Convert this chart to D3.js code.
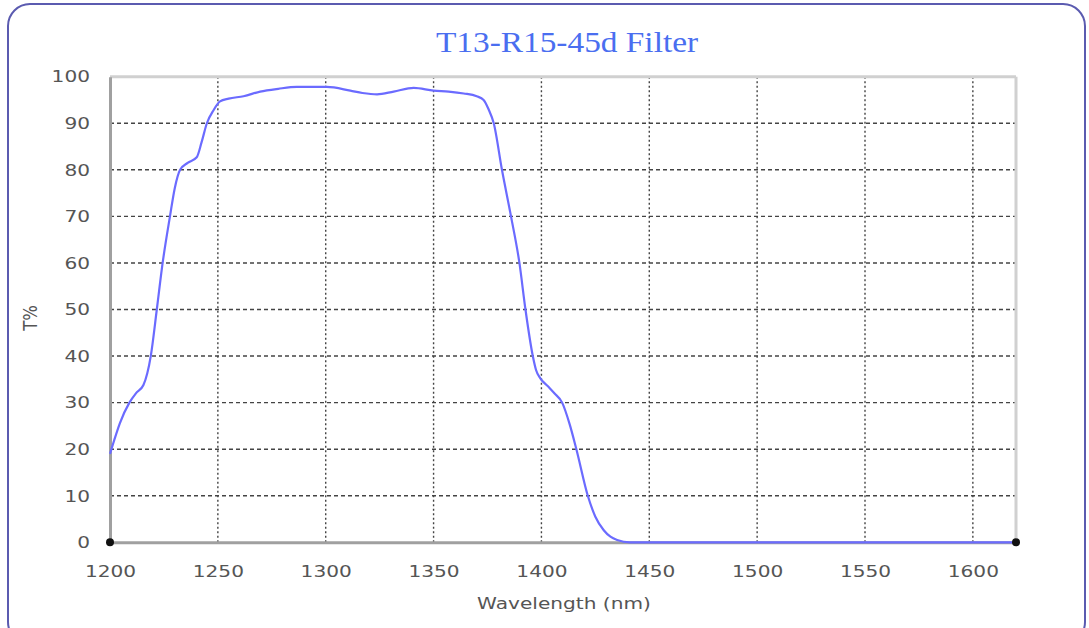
<!DOCTYPE html>
<html><head><meta charset="utf-8">
<script src="https://cdn.jsdelivr.net/npm/d3@7"></script>
<style>body{margin:0;background:#fff}svg{display:block}</style>
</head><body>
<svg id="c" width="1089" height="628"></svg>
<script>
const title = "T13-R15-45d Filter";
const xLabel = "Wavelength (nm)";
const yLabel = "T%";
const xTicks = [1200,1250,1300,1350,1400,1450,1500,1550,1600];
const yTicks = [0,10,20,30,40,50,60,70,80,90,100];
const wavelength = [1200,1202,1204.6,1209,1212,1215.5,1218.9,1221.7,1224.4,1227.8,1230,1232.5,1236,1240.2,1242.5,1244.9,1248,1251,1255,1261.9,1269.6,1278,1286.6,1300.5,1311.4,1317,1323.8,1331.5,1340.8,1350,1357,1364,1370,1373.2,1375.5,1377.9,1381.7,1385.9,1389.8,1392.6,1396,1397.5,1399.5,1403,1406,1409.6,1413,1416.2,1421.5,1425,1428.9,1432,1435.1,1441,1500,1560,1620];
const transmission = [19,22,25.6,30,32,33.8,40,50,60,70,76,80,81.5,82.7,86,90,92.8,94.7,95.3,95.8,96.8,97.4,97.8,97.8,97.0,96.5,96.2,96.8,97.6,97.0,96.8,96.4,95.8,95,93,90,80,70,60,50,40,37,35.2,33.5,32,30,25.5,20,10,5.5,2.6,1.2,0.5,0,0,0,0];

const svg = d3.select("#c");
const x = d3.scaleLinear().domain([1200,1620]).range([110,1016]);
const y = d3.scaleLinear().domain([0,100]).range([542.3,76.7]);
const SX = 1.22;

// outer frame
svg.append("rect").attr("x",8).attr("y",4).attr("width",1077).attr("height",640)
  .attr("rx",22).attr("ry",22).attr("fill","#fff").attr("stroke","#5b5bb0").attr("stroke-width",2);

// grid
const g = svg.append("g");
g.selectAll("line.h").data(yTicks.filter(d=>d>0&&d<100)).join("line")
  .attr("x1",x(1200)).attr("x2",x(1620)).attr("y1",d=>y(d)).attr("y2",d=>y(d))
  .attr("stroke","#444").attr("stroke-width",1.4).attr("stroke-dasharray","4,3");
g.selectAll("line.v").data(xTicks.filter(d=>d>1200)).join("line")
  .attr("y1",y(0)).attr("y2",y(100)).attr("x1",d=>x(d)).attr("x2",d=>x(d))
  .attr("stroke","#444").attr("stroke-width",1.4).attr("stroke-dasharray","2,2.5");

// plot frame
svg.append("line").attr("x1",x(1200)).attr("x2",x(1620)).attr("y1",y(100)).attr("y2",y(100)).attr("stroke","#d0d0d0").attr("stroke-width",3);
svg.append("line").attr("x1",x(1620)).attr("x2",x(1620)).attr("y1",y(100)).attr("y2",y(0)).attr("stroke","#d0d0d0").attr("stroke-width",3);

// axes
const xa = svg.append("g").attr("transform",`translate(0,${y(0)})`)
  .call(d3.axisBottom(x).tickValues(xTicks).tickSize(0).tickPadding(23).tickFormat(d3.format("d")));
const ya = svg.append("g").attr("transform",`translate(${x(1200)},0)`)
  .call(d3.axisLeft(y).tickValues(yTicks).tickSize(0).tickPadding(17));
[xa,ya].forEach(a=>{
  a.select(".domain").attr("stroke","#a0a0a0").attr("stroke-width",3);
  a.selectAll("text").attr("fill","#555").attr("font-family","DejaVu Sans, Verdana, sans-serif").attr("font-size",16.5);
});
xa.selectAll("text").attr("transform",`scale(${SX},1)`);
ya.selectAll("text").each(function(){
  const t=d3.select(this); t.attr("x",-20/SX).attr("transform",`scale(${SX},1)`);
});

// curve
const line = d3.line().x((d,i)=>x(wavelength[i])).y(d=>y(d)).curve(d3.curveMonotoneX);
svg.append("path").datum(transmission).attr("d",line).attr("fill","none")
  .attr("stroke","#6b6bff").attr("stroke-width",2.2);

// corner dots
svg.selectAll("circle.c").data([1200,1620]).join("circle")
  .attr("cx",d=>x(d)).attr("cy",y(0)).attr("r",4).attr("fill","#111");

// titles
svg.append("text").attr("transform",`translate(567,52) scale(1.15,1)`).attr("text-anchor","middle")
  .attr("font-family","Liberation Serif, Times New Roman, serif").attr("font-size",29)
  .attr("fill","#4a6ef0").text(title);
svg.append("text").attr("transform",`translate(564,609) scale(${SX},1)`).attr("text-anchor","middle")
  .attr("font-family","DejaVu Sans, Verdana, sans-serif").attr("font-size",16.5).attr("fill","#555").text(xLabel);
svg.append("text").attr("transform",`translate(37,318) rotate(-90) scale(1,${SX})`).attr("text-anchor","middle")
  .attr("font-family","DejaVu Sans, Verdana, sans-serif").attr("font-size",16.5).attr("fill","#555").text(yLabel);
</script>
</body></html>
